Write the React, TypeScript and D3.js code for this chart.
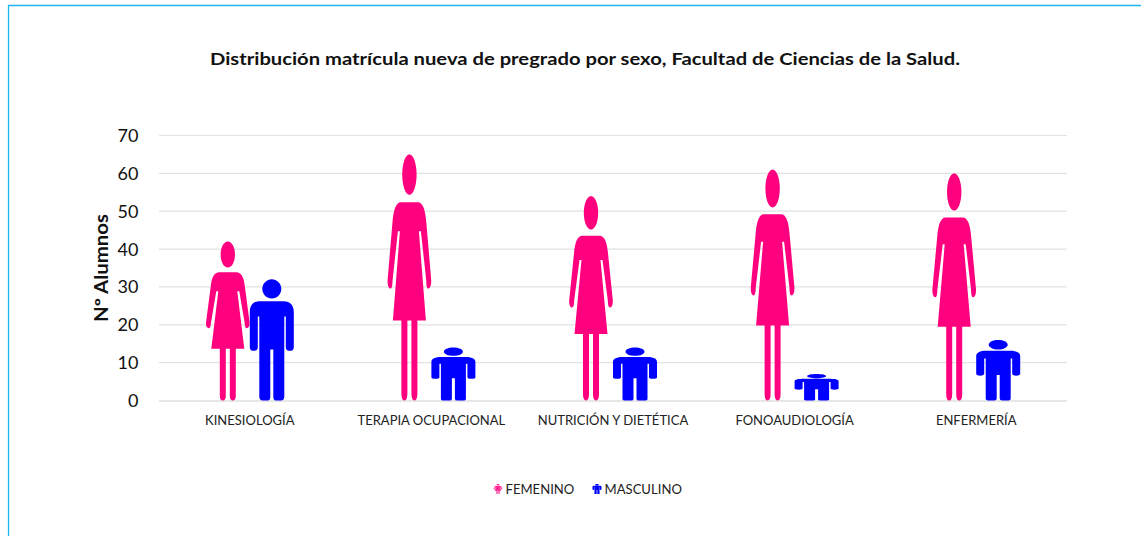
import React from "react";
import * as d3 from "d3";

const categories = ["KINESIOLOGÍA", "TERAPIA OCUPACIONAL", "NUTRICIÓN Y DIETÉTICA", "FONOAUDIOLOGÍA", "ENFERMERÍA"];
const femenino = [42, 65, 54, 61, 60];
const masculino = [32, 14, 14, 7, 16];
const seriesNames = ["FEMENINO", "MASCULINO"];
const yTicks = [0, 10, 20, 30, 40, 50, 60, 70];

const PINK = "#FF007F";
const BLUE = "#0000FF";
const FONT = "Lato, sans-serif";
const W = 1141, H = 536;

function femalePath(cx: number, top: number, bottom: number, w: number) {
  const X = d3.scaleLinear().domain([-22, 22]).range([cx - w / 2, cx + w / 2]);
  const Y = d3.scaleLinear().domain([0, 1]).range([top, bottom]);
  const p = d3.path();
  const rx = X(7.2) - X(0), ry = Y(0.082) - Y(0);
  p.moveTo(X(0) + rx, Y(0.082));
  for (let i = 1; i <= 32; i++) {
    const a = (i / 32) * Math.PI * 2;
    p.lineTo(X(0) + rx * Math.cos(a), Y(0.082) + ry * Math.sin(a));
  }
  p.closePath();
  const x = (v: number, s: number) => X(v * s);
  p.moveTo(x(8.5, 1), Y(0.194));
  p.bezierCurveTo(x(13.5, 1), Y(0.194), x(16, 1), Y(0.225), x(17, 1), Y(0.28));
  p.lineTo(x(21.8, 1), Y(0.51));
  p.bezierCurveTo(x(22, 1), Y(0.535), x(20.5, 1), Y(0.545), x(19, 1), Y(0.545));
  p.bezierCurveTo(x(17.5, 1), Y(0.545), x(17, 1), Y(0.535), x(16.8, 1), Y(0.51));
  p.lineTo(x(11.5, 1), Y(0.3125));
  p.lineTo(x(9.5, 1), Y(0.3125));
  p.lineTo(x(16.5, 1), Y(0.675));
  p.lineTo(x(8, 1), Y(0.675));
  p.lineTo(x(8, 1), Y(0.97));
  p.quadraticCurveTo(x(8, 1), Y(1), x(5, 1), Y(1));
  p.quadraticCurveTo(x(2, 1), Y(1), x(2, 1), Y(0.97));
  p.lineTo(x(2, 1), Y(0.675));
  p.lineTo(x(2, -1), Y(0.675));
  p.lineTo(x(2, -1), Y(0.97));
  p.quadraticCurveTo(x(2, -1), Y(1), x(5, -1), Y(1));
  p.quadraticCurveTo(x(8, -1), Y(1), x(8, -1), Y(0.97));
  p.lineTo(x(8, -1), Y(0.675));
  p.lineTo(x(16.5, -1), Y(0.675));
  p.lineTo(x(9.5, -1), Y(0.3125));
  p.lineTo(x(11.5, -1), Y(0.3125));
  p.lineTo(x(16.8, -1), Y(0.51));
  p.bezierCurveTo(x(17, -1), Y(0.535), x(17.5, -1), Y(0.545), x(19, -1), Y(0.545));
  p.bezierCurveTo(x(20.5, -1), Y(0.545), x(22, -1), Y(0.535), x(21.8, -1), Y(0.51));
  p.lineTo(x(17, -1), Y(0.28));
  p.bezierCurveTo(x(16, -1), Y(0.225), x(13.5, -1), Y(0.194), x(8.5, -1), Y(0.194));
  p.closePath();
  return p.toString();
}

function malePath(cx: number, top: number, bottom: number, w: number) {
  const X = d3.scaleLinear().domain([-22, 22]).range([cx - w / 2, cx + w / 2]);
  const Y = d3.scaleLinear().domain([0, 1]).range([top, bottom]);
  const p = d3.path();
  const rx = X(9.5) - X(0), ry = Y(0.079) - Y(0);
  p.moveTo(X(0) + rx, Y(0.079));
  for (let i = 1; i <= 32; i++) {
    const a = (i / 32) * Math.PI * 2;
    p.lineTo(X(0) + rx * Math.cos(a), Y(0.079) + ry * Math.sin(a));
  }
  p.closePath();
  const x = (v: number, s: number) => X(v * s);
  const s = 1;
  p.moveTo(x(12, s), Y(0.18));
  p.bezierCurveTo(x(18, s), Y(0.18), x(22, s), Y(0.21), x(22, s), Y(0.27));
  p.lineTo(x(22, s), Y(0.56));
  p.quadraticCurveTo(x(22, s), Y(0.59), x(18, s), Y(0.59));
  p.quadraticCurveTo(x(14, s), Y(0.59), x(14, s), Y(0.56));
  p.lineTo(x(14, s), Y(0.306));
  p.lineTo(x(12.5, s), Y(0.306));
  p.lineTo(x(12.5, s), Y(0.97));
  p.quadraticCurveTo(x(12.5, s), Y(1), x(9, s), Y(1));
  p.lineTo(x(4, s), Y(1));
  p.quadraticCurveTo(x(1.5, s), Y(1), x(1.5, s), Y(0.97));
  p.lineTo(x(1.5, s), Y(0.58));
  p.lineTo(x(1.5, -s), Y(0.58));
  p.lineTo(x(1.5, -s), Y(0.97));
  p.quadraticCurveTo(x(1.5, -s), Y(1), x(4, -s), Y(1));
  p.lineTo(x(9, -s), Y(1));
  p.quadraticCurveTo(x(12.5, -s), Y(1), x(12.5, -s), Y(0.97));
  p.lineTo(x(12.5, -s), Y(0.306));
  p.lineTo(x(14, -s), Y(0.306));
  p.lineTo(x(14, -s), Y(0.56));
  p.quadraticCurveTo(x(14, -s), Y(0.59), x(18, -s), Y(0.59));
  p.quadraticCurveTo(x(22, -s), Y(0.59), x(22, -s), Y(0.56));
  p.lineTo(x(22, -s), Y(0.27));
  p.bezierCurveTo(x(22, -s), Y(0.21), x(18, -s), Y(0.18), x(12, -s), Y(0.18));
  p.closePath();
  return p.toString();
}

export default function App() {
  const y = d3.scaleLinear().domain([0, 70]).range([400.5, 135.5]);
  const x0 = d3.scaleBand<string>().domain(categories).range([159, 1067]);
  const x1 = d3.scaleBand<string>()
    .domain(seriesNames)
    .range([x0.bandwidth() / 2 - 44, x0.bandwidth() / 2 + 44]);

  return (
    <svg width={W} height={H} viewBox={`0 0 ${W} ${H}`}
      style={{ position: "fixed", left: 0, top: 0, display: "block", background: "#fff" }}>
      <path d={`M8.5 536V5.5H1141`} fill="none" stroke="#1DB5F0" strokeWidth={1.3} />
      <text x={585} y={65} textAnchor="middle" fontFamily={FONT} fontWeight={700} fontSize={17.5}
        textLength={750} lengthAdjust="spacingAndGlyphs" fill="#111">
        Distribución matrícula nueva de pregrado por sexo, Facultad de Ciencias de la Salud.
      </text>

      {yTicks.slice(1).map((t) => (
        <line key={t} x1={159} x2={1067} y1={y(t)} y2={y(t)} stroke="#E2E2E2" strokeWidth={1.2} />
      ))}
      <line x1={159} x2={1067} y1={y(0) + 0.5} y2={y(0) + 0.5} stroke="#CFCFCF" strokeWidth={1.2} />
      {yTicks.map((t) => (
        <text key={t} x={138.5} y={y(t) + 6.5} textAnchor="end" fontFamily={FONT} fontSize={18} fill="#111">{t}</text>
      ))}
      <text transform={`translate(107.5,268) rotate(-90)`} textAnchor="middle" fontFamily={FONT}
        fontWeight={700} fontSize={18} textLength={108} lengthAdjust="spacingAndGlyphs" fill="#111">Nº Alumnos</text>

      {categories.map((c, i) => {
        const left = x0(c)!;
        const fx = left + x1(seriesNames[0])! + x1.bandwidth() / 2;
        const mx = left + x1(seriesNames[1])! + x1.bandwidth() / 2;
        return (
          <g key={c}>
            <path d={femalePath(fx, y(femenino[i]), y(0), 44)} fill={PINK} />
            <path d={malePath(mx, y(masculino[i]), y(0), 44)} fill={BLUE} />
            <text x={left + x0.bandwidth() / 2} y={425} textAnchor="middle" fontFamily={FONT} fontSize={13} fill="#222">{c}</text>
          </g>
        );
      })}

      <path d={femalePath(498, 484, 494, 9)} fill={PINK} fillOpacity={0.85} />
      <text x={505.5} y={494} fontFamily={FONT} fontSize={13.1} fill="#222">{seriesNames[0]}</text>
      <path d={malePath(597, 484, 494, 9)} fill={BLUE} />
      <text x={604.5} y={494} fontFamily={FONT} fontSize={13.1} fill="#222">{seriesNames[1]}</text>
    </svg>
  );
}
